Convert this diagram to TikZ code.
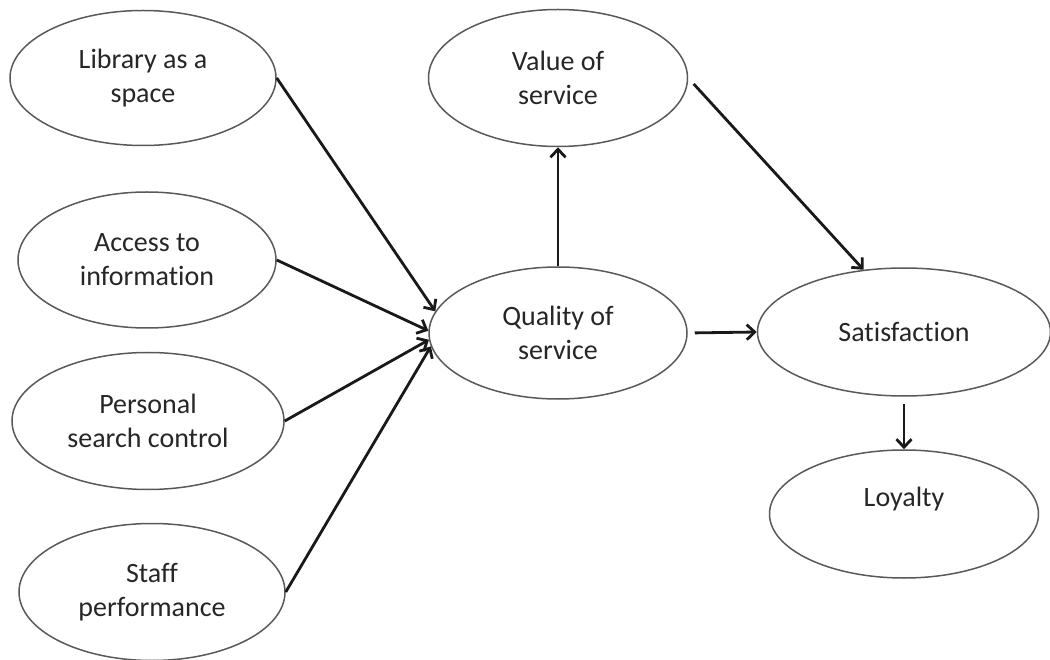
\documentclass[tikz,border=0pt]{standalone}
\usepackage{fontspec}
\setmainfont{Carlito}[Ligatures={NoCommon}]
\usetikzlibrary{shapes.geometric,arrows.meta}
\begin{document}
\begin{tikzpicture}[x=1pt,y=-1pt,
  oval/.style={ellipse, draw=black!65, line width=1.5pt, inner sep=0pt,
    align=center, text=black!85, font=\fontsize{28}{34}\selectfont},
  arr/.style={draw=black!90, line width=2.8pt, -{Straight Barb[length=8pt,width=15pt]}}]
\useasboundingbox (0,0) rectangle (1050,660);
\node[oval, minimum width=266pt, minimum height=135pt] (lib) at (143,78) {Library as a\\space};
\node[oval, minimum width=258pt, minimum height=136pt] (acc) at (147,260) {Access to\\information};
\node[oval, minimum width=272pt, minimum height=137pt] (per) at (148,421) {Personal\\search control};
\node[oval, minimum width=266pt, minimum height=137pt] (sta) at (152,592) {Staff\\performance};
\node[oval, minimum width=259pt, minimum height=137pt] (val) at (558,78) {Value of\\service};
\node[oval, minimum width=258pt, minimum height=132pt] (qual) at (558,333) {Quality of\\service};
\node[oval, minimum width=293pt, minimum height=128pt] (sat) at (904,332) {Satisfaction};
\node[oval, minimum width=269pt, minimum height=128pt] (loy) at (904,514) {Loyalty\\~};
\draw[arr] (lib.east) -- (qual.170);
\draw[arr] (acc.east) -- (qual.179);
\draw[arr] (per.east) -- (qual.183);
\draw[arr] (sta.east) -- (qual.186);
\draw[arr] (qual.north) -- (val.south);
\draw[arr, shorten <=8pt] (val.east) -- (sat.123);
\draw[arr, shorten <=7pt] (qual.east) -- (sat.west);
\draw[arr, shorten <=7pt] (sat.south) -- (loy.north);
\end{tikzpicture}
\end{document}
